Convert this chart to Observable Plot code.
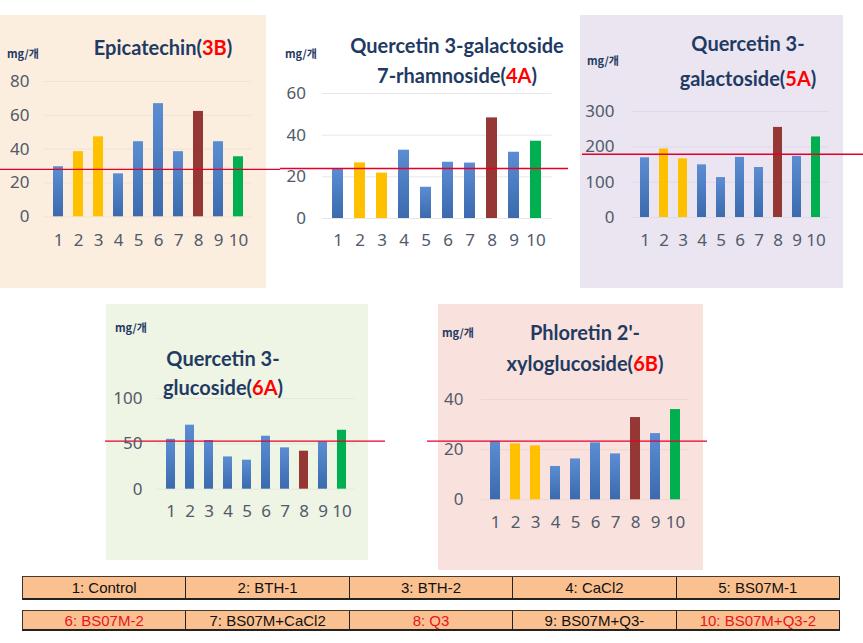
<!DOCTYPE html>
<html><head><meta charset="utf-8">
<script src="https://cdn.jsdelivr.net/npm/d3@7"></script>
<script src="https://cdn.jsdelivr.net/npm/@observablehq/plot@0.6"></script>
<style>
body{margin:0;background:#fff;}
#root{position:relative;width:863px;height:643px;overflow:hidden;background:#fff;}
.bg,.plot,.title,.unit{position:absolute;}
.plot svg{overflow:visible;}
.title{transform:translate(-50%,-50%);white-space:nowrap;font-weight:bold;font-size:20px;font-family:Lato,"Noto Sans",sans-serif;color:#1F3B63;line-height:1;}
.title .hl{color:#FF0000;}
.unit{transform:translateY(-50%);font-weight:bold;font-size:11px;font-family:"Noto Sans CJK KR","Noto Sans",sans-serif;color:#1F3B63;line-height:1;}
.legrow{position:absolute;left:22px;width:818px;display:flex;box-sizing:border-box;border-top:1px solid #4a3a2a;border-bottom:2px solid #222;border-left:1px solid #333;}
.legcell{flex:1;background:#FAC090;border-right:1px solid #222;display:flex;align-items:center;justify-content:center;font-family:"Liberation Sans Narrow","Liberation Sans",Arial,sans-serif;font-size:15px;color:#111;}
.legcell.red{color:#E8141E;}
</style></head><body>
<svg width="0" height="0" style="position:absolute"><defs>
<linearGradient id="gBlue" x1="0" y1="0" x2="0" y2="1"><stop offset="0" stop-color="#5C8DD2"/><stop offset="1" stop-color="#3B6AAE"/></linearGradient>
</defs></svg>
<div id="root"></div>
<script>
// ---- data ----
const categories = ["1","2","3","4","5","6","7","8","9","10"];
const epicatechin = [29.6, 38.5, 47.3, 25.4, 44.4, 66.9, 38.5, 62.3, 44.4, 35.5];
const q3Gal7Rha = [24, 26.7, 21.8, 32.8, 15, 27, 26.6, 48.3, 31.8, 37.1];
const q3Gal = [169, 194, 166, 149, 113, 170, 141.5, 255, 173, 228];
const q3Glu = [55, 70.6, 53.7, 35.6, 32, 58.4, 45.6, 41.9, 52.2, 65];
const phloretin = [23.3, 22.3, 21.5, 13.3, 16.3, 22.7, 18.3, 32.8, 26.4, 36];
const referenceValues = [28, 24, 179, 53, 23.4];
const groupA = ["b","y","y","b","b","b","b","r","b","g"];
const groupB = ["b","b","b","b","b","b","b","r","b","g"];
const epiTicks = [0,20,40,60,80];
const q4aTicks = [0,20,40,60];
const q5aTicks = [0,100,200,300];
const q6aTicks = [0,50,100];
const p6bTicks = [0,20,40];
const legendRow1 = ["1: Control","2: BTH-1","3: BTH-2","4: CaCl2","5: BS07M-1"];
const legendRow2 = ["6: BS07M-2","7: BS07M+CaCl2","8: Q3","9: BS07M+Q3-","10: BS07M+Q3-2"];
const legendRed = ["6: BS07M-2","8: Q3","10: BS07M+Q3-2"];

const fillMap = {b:"url(#gBlue)", y:"#FFC000", r:"#953735", g:"#00B050"};

// ---- layout ----
const panels = [
  {values:epicatechin, ref:referenceValues[0], groups:groupA, ticks:epiTicks,
   bg:[0,15,266,273,"#FCEEDF"], grid:"#F3E3D3", rule:[0,280], frame:[43.6,251.4], y0:216, yTop:80.7, labelRight:29, xLabelY:240,
   title:[["Epicatechin(","3B",")"]], titleX:163, titleY:[47], unit:[7,53]},
  {values:q3Gal7Rha, ref:referenceValues[1], groups:groupA, ticks:q4aTicks,
   bg:null, grid:"#E8E8E8", rule:[280,568], frame:[321.8,551.5], y0:218.3, yTop:93.3, labelRight:305.5, xLabelY:240,
   title:[["Quercetin 3-galactoside","",""],["7-rhamnoside(","4A",")"]], titleX:457, titleY:[45,75], unit:[285,53]},
  {values:q3Gal, ref:referenceValues[2], groups:groupA, ticks:q5aTicks,
   bg:[580,15,263,273,"#EAE5F1"], grid:"#DFDAE8", rule:[582,863], frame:[631,829.2], y0:216.7, yTop:110.7, labelRight:614, xLabelY:240,
   title:[["Quercetin 3-","",""],["galactoside(","5A",")"]], titleX:748, titleY:[43,78], unit:[587,60]},
  {values:q3Glu, ref:referenceValues[3], groups:groupB, ticks:q6aTicks,
   bg:[106,304,262,256,"#EFF5E4"], grid:"#E3EAD6", rule:[105,385], frame:[156.8,354.9], y0:489, yTop:398.3, labelRight:142, xLabelY:511.7,
   title:[[" Quercetin 3-","",""],["glucoside(","6A",")"]], titleX:223, titleY:[358,387], unit:[115,327]},
  {values:phloretin, ref:referenceValues[4], groups:groupA, ticks:p6bTicks,
   bg:[438,304,265,266,"#F9E2DD"], grid:"#EED6D1", rule:[427,707], frame:[480.6,688.1], y0:499, yTop:398.7, labelRight:463, xLabelY:521.7,
   title:[["Phloretin 2'-","",""],["xyloglucoside(","6B",")"]], titleX:585, titleY:[332,363], unit:[442,332]}
];

const root = document.getElementById("root");

for (const p of panels) {
  if (!p.bg) continue;
  const d = document.createElement("div");
  d.className = "bg";
  Object.assign(d.style, {left:p.bg[0]+"px", top:p.bg[1]+"px", width:p.bg[2]+"px", height:p.bg[3]+"px", background:p.bg[4]});
  root.appendChild(d);
}

for (const p of panels) {
  const data = categories.map((c,i) => ({cat:c, value:p.values[i], fill:fillMap[p.groups[i]]}));
  const svgLeft = p.rule[0];
  const width = p.rule[1] - p.rule[0];
  const marginTop = 14;
  const svgTop = p.yTop - marginTop;
  const marginBottom = 40;
  const height = (p.y0 - svgTop) + marginBottom;
  const marginLeft = p.frame[0] - svgLeft;
  const marginRight = p.rule[1] - p.frame[1];
  const chart = Plot.plot({
    width, height, marginTop, marginBottom, marginLeft, marginRight,
    style:{background:"transparent", fontFamily:"'Noto Sans', sans-serif", fontSize:"17px", color:"#525A6A", overflow:"visible"},
    x:{domain:categories, paddingInner:0.52, paddingOuter:0.26, label:null},
    y:{domain:[0, p.ticks[p.ticks.length-1]], label:null},
    color:{type:"identity"},
    marks:[
      Plot.gridY(p.ticks, {stroke:p.grid, strokeOpacity:1, strokeWidth:1}),
      Plot.barY(data, {x:"cat", y:"value", fill:"fill"}),
      Plot.ruleY([p.ref], {stroke:"#E4002B", strokeWidth:1.3, insetLeft:-marginLeft, insetRight:-marginRight}),
      Plot.axisY(p.ticks, {tickSize:0, tickPadding:p.frame[0]-p.labelRight, label:null, fill:"#525A6A"}),
      Plot.axisX({tickSize:0, tickPadding:p.xLabelY - p.y0 - 6.5, label:null, fill:"#525A6A"})
    ]
  });
  const wrap = document.createElement("div");
  wrap.className = "plot";
  wrap.style.left = svgLeft + "px";
  wrap.style.top = svgTop + "px";
  wrap.appendChild(chart);
  root.appendChild(wrap);

  p.title.forEach((parts, k) => {
    const t = document.createElement("div");
    t.className = "title";
    t.style.left = p.titleX + "px";
    t.style.top = p.titleY[k] + "px";
    t.appendChild(document.createTextNode(parts[0]));
    if (parts[1]) {
      const s = document.createElement("span");
      s.className = "hl"; s.textContent = parts[1];
      t.appendChild(s);
    }
    t.appendChild(document.createTextNode(parts[2]));
    root.appendChild(t);
  });
  const u = document.createElement("div");
  u.className = "unit";
  u.style.left = p.unit[0] + "px";
  u.style.top = p.unit[1] + "px";
  u.textContent = "mg/개";
  root.appendChild(u);
}

[[legendRow1, 576, 24], [legendRow2, 610, 21]].forEach(([labels, top, h]) => {
  const row = document.createElement("div");
  row.className = "legrow";
  row.style.top = top + "px";
  row.style.height = h + "px";
  for (const l of labels) {
    const c = document.createElement("div");
    c.className = "legcell" + (legendRed.includes(l) ? " red" : "");
    c.textContent = l;
    row.appendChild(c);
  }
  root.appendChild(row);
});
</script>
</body></html>
